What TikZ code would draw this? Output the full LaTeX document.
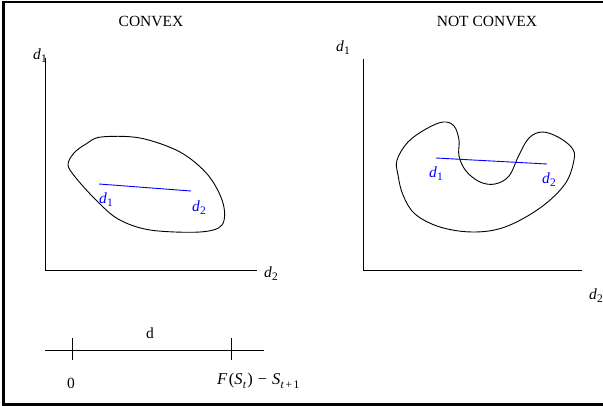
\documentclass[tikz,border=0pt]{standalone}
\usepackage{fontspec}
\setmainfont{Liberation Serif}
\newcommand\sbs[1]{\raisebox{-3.2pt}{\fontsize{11.5}{12}\selectfont #1}}
\newcommand\vd[1]{\textit{d}\kern0.3pt\sbs{#1}}
\tikzset{
  lbl/.style={inner sep=0pt, font=\fontsize{15.5}{18}\selectfont},
  blbl/.style={lbl, text=blue},
  axis/.style={line width=0.9pt},
  blob/.style={line width=0.9pt},
  seg/.style={line width=0.9pt, draw=blue},
  frame/.style={line width=2.5pt},
}
\begin{document}
\begin{tikzpicture}[x=1pt,y=-1pt]
\useasboundingbox (0,0) rectangle (603,406);
% frame (left, top, bottom)
\draw[frame] (603,2) -- (3.5,2) -- (3.5,404.5) -- (603,404.5);

% ---------- left panel ----------
\node[lbl] (t1) at (151,21) {CONVEX};
\coordinate (o1) at (45,270);
\coordinate (y1) at (45,58);
\coordinate (x1) at (257,270);
\draw[axis] (y1) -- (o1) -- (x1);
\node[lbl] (ly1) at (40,56) {\vd{1}};
\node[lbl] (lx1) at (271,274) {\vd{2}};
\draw[blob] plot[smooth cycle, tension=0.55] coordinates {
  (101,137) (140,138) (180,152) (208,175) (223,203) (222,225) (200,232)
  (150,230) (118,219) (95,199) (76,178) (68,165) (74,153) (86,144)};
\coordinate (a1) at (99,184);
\coordinate (b1) at (191,191);
\draw[seg] (a1) -- (b1);
\node[blbl] (la1) at (106,200) {\vd{1}};
\node[blbl] (lb1) at (199,208) {\vd{2}};

% ---------- right panel ----------
\node[lbl] (t2) at (487,21) {NOT CONVEX};
\coordinate (o2) at (363,270);
\coordinate (y2) at (363,59);
\coordinate (x2) at (582,270);
\draw[axis] (y2) -- (o2) -- (x2);
\node[lbl] (ly2) at (343,48) {\vd{1}};
\node[lbl] (lx2) at (596,296) {\vd{2}};
\draw[blob] plot[smooth cycle, tension=0.6] coordinates {
  (397,160) (408,142) (426,129) (443,122) (454,126) (459,140) (459,156)
  (466,171) (480,182) (495,184) (509,176) (519,155) (529,138) (542,132)
  (558,137) (572,148) (574,160) (565,184) (540,208) (505,227) (473,232)
  (440,227) (415,214) (403,195) (398,175)};
\coordinate (a2) at (436,158);
\coordinate (b2) at (547,164);
\draw[seg] (a2) -- (b2);
\node[blbl] (la2) at (436,174) {\vd{1}};
\node[blbl] (lb2) at (549,180) {\vd{2}};

% ---------- number line ----------
\coordinate (n0) at (45,350);
\coordinate (n1) at (264,350);
\draw[axis] (n0) -- (n1);
\coordinate (k0) at (72,350);
\coordinate (k1) at (231,350);
\draw[axis] ([yshift=-10pt]k0) -- ([yshift=12pt]k0);
\draw[axis] ([yshift=-10pt]k1) -- ([yshift=12pt]k1);
\node[lbl] (ld) at (150,333) {d};
\node[lbl] (l0) at (71,383) {0};
\node[lbl, anchor=west, font=\fontsize{16.5}{18}\selectfont] (lf) at (217,381) {\textit{F}\kern1.5pt(\textit{S}\kern0.3pt\sbs{\textit{t}}\kern1pt)\kern5pt−\kern5pt\textit{S}\kern0.3pt\sbs{\textit{t}\kern1.5pt+\kern1.5pt1}};
\end{tikzpicture}
\end{document}
